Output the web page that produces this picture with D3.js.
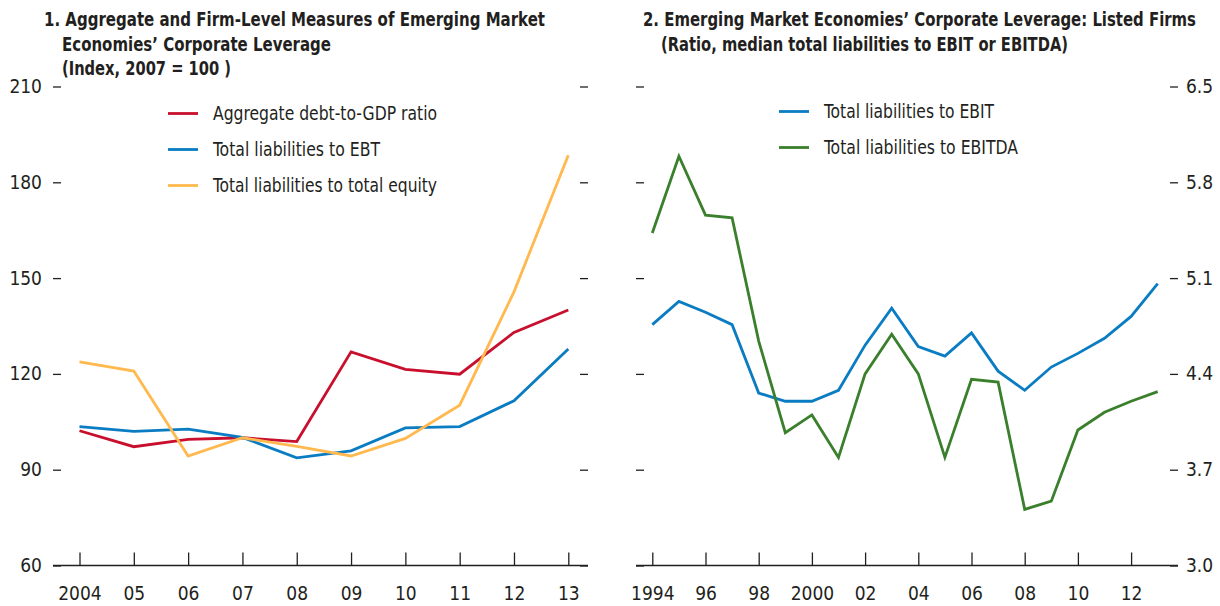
<!DOCTYPE html>
<html lang="en">
  <head>
    <meta charset="utf-8" />
    <title>EM corporate leverage</title>
    <script src="https://d3js.org/d3.v7.min.js"></script>
    <style>
      body { margin: 0; background: #fff; }
      svg text { font-family: "Liberation Sans Narrow", "Arial Narrow", "DejaVu Sans Condensed", sans-serif; fill: #231f20; }
      .title { font-weight: bold; font-size: 19px; }
      .tick text { font-size: 19px; }
      .legend text { font-size: 19px; }
      .tick line { stroke: #231f20; stroke-width: 1.3; }
    </style>
  </head>
  <body>
    <div id="container"></div>
    <script>
      // ---- panel 1 data (index, 2007 = 100)
      var years1 = [2004, 2005, 2006, 2007, 2008, 2009, 2010, 2011, 2012, 2013];
      var yearLabels1 = ["2004", "05", "06", "07", "08", "09", "10", "11", "12", "13"];
      var debtToGdp = [102.2, 97.2, 99.5, 100, 98.8, 126.9, 121.4, 119.9, 133, 140];
      var liabToEbt = [103.5, 102, 102.7, 100.1, 93.7, 95.9, 103.1, 103.5, 111.6, 127.8];
      var liabToEquity = [123.8, 120.9, 94.3, 100, 97.3, 94.3, 99.8, 110.2, 145.7, 188.5];
      var yTicks1 = [60, 90, 120, 150, 180, 210];

      // ---- panel 2 data (ratio)
      var years2 = [1994, 1995, 1996, 1997, 1998, 1999, 2000, 2001, 2002, 2003,
                    2004, 2005, 2006, 2007, 2008, 2009, 2010, 2011, 2012, 2013];
      var xTicks2 = [1994, 1996, 1998, 2000, 2002, 2004, 2006, 2008, 2010, 2012];
      var xTickLabels2 = ["1994", "96", "98", "2000", "02", "04", "06", "08", "10", "12"];
      var liabToEbit = [4.76, 4.93, 4.85, 4.76, 4.26, 4.20, 4.20, 4.28, 4.61, 4.88,
                        4.60, 4.53, 4.70, 4.42, 4.28, 4.45, 4.55, 4.66, 4.82, 5.06];
      var liabToEbitda = [5.43, 5.99, 5.56, 5.54, 4.64, 3.97, 4.10, 3.79, 4.40, 4.69,
                          4.40, 3.79, 4.36, 4.34, 3.41, 3.47, 3.99, 4.12, 4.20, 4.27];
      var yTicks2 = [3.0, 3.7, 4.4, 5.1, 5.8, 6.5];

      var red = "#c8102e", blue = "#0a7cc2", yellow = "#ffb94f", green = "#3a7f2b";

      var width = 1220, height = 606;
      var plotTop = 86.5, plotBottom = 565.5;

      var svg = d3.select("#container").append("svg")
        .attr("width", width)
        .attr("height", height);

      // titles (condensed font is not installed, so squeeze to the reference widths)
      function title(x, lines) {
        lines.forEach(function (l, i) {
          svg.append("text").attr("class", "title")
            .attr("x", x + (i ? 18 : 0)).attr("y", 26 + i * 24.5)
            .attr("textLength", l.w).attr("lengthAdjust", "spacingAndGlyphs")
            .text(l.text);
        });
      }
      title(44, [
        { text: "1. Aggregate and Firm-Level Measures of Emerging Market", w: 501 },
        { text: "Economies\u2019 Corporate Leverage", w: 269 },
        { text: "(Index, 2007 = 100 )", w: 169 }
      ]);
      title(643, [
        { text: "2. Emerging Market Economies\u2019 Corporate Leverage: Listed Firms", w: 553 },
        { text: "(Ratio, median total liabilities to EBIT or EBITDA)", w: 407 }
      ]);

      function drawPanel(p) {
        var x = d3.scaleLinear().domain(d3.extent(p.years)).range(p.xRange);
        var y = d3.scaleLinear().domain(d3.extent(p.yTicks)).range([plotBottom, plotTop]);

        // y ticks, both sides
        var left = d3.axisLeft(y).tickValues(p.yTicks).tickSize(8).tickPadding(p.labelLeft ? 11 : 0);
        if (!p.labelLeft) left.tickFormat("");
        svg.append("g").attr("transform", "translate(" + p.axisLeft + ",0)").call(left)
          .call(function (g) { g.select(".domain").remove(); });

        var right = d3.axisRight(y).tickValues(p.yTicks).tickSize(8).tickPadding(p.labelLeft ? 0 : 8);
        if (p.labelLeft) right.tickFormat(""); else right.tickFormat(d3.format(".1f"));
        svg.append("g").attr("transform", "translate(" + p.axisRight + ",0)").call(right)
          .call(function (g) { g.select(".domain").remove(); });

        // x axis with ticks pointing up
        var xa = d3.axisBottom(x).tickValues(p.xTicks).tickSizeInner(-13).tickSizeOuter(0).tickPadding(21)
          .tickFormat(function (d, i) { return p.xLabels[i]; });
        svg.append("g").attr("transform", "translate(0," + plotBottom + ")").call(xa)
          .call(function (g) { g.select(".domain").remove(); });
        svg.append("line")
          .attr("x1", p.axisLeft - 8).attr("x2", p.axisRight + 8)
          .attr("y1", y(p.yTicks[0])).attr("y2", y(p.yTicks[0]))
          .attr("stroke", "#231f20").attr("stroke-width", 1.5);

        var line = d3.line().x(function (d) { return x(d[0]); }).y(function (d) { return y(d[1]); });
        p.series.forEach(function (s) {
          svg.append("path")
            .datum(p.years.map(function (yr, i) { return [yr, s.values[i]]; }))
            .attr("fill", "none")
            .attr("stroke", s.color)
            .attr("stroke-width", 2.8)
            .attr("stroke-linejoin", "miter")
            .attr("d", line);
        });

        // legend
        var lg = svg.append("g").attr("class", "legend");
        p.series.forEach(function (s, i) {
          var ly = p.legendY + i * 36;
          lg.append("line").attr("x1", p.legendX).attr("x2", p.legendX + 30)
            .attr("y1", ly).attr("y2", ly).attr("stroke", s.color).attr("stroke-width", 2.8);
          lg.append("text").attr("x", p.legendX + 45).attr("y", ly).attr("dy", "0.35em")
            .attr("textLength", s.w).attr("lengthAdjust", "spacingAndGlyphs")
            .text(s.name);
        });
      }

      drawPanel({
        years: years1, xTicks: years1, xLabels: yearLabels1, xRange: [79.5, 568.3],
        yTicks: yTicks1, axisLeft: 61, axisRight: 580, labelLeft: true,
        legendX: 168, legendY: 113.5,
        series: [
          { name: "Aggregate debt-to-GDP ratio", values: debtToGdp, color: red, w: 224 },
          { name: "Total liabilities to EBT", values: liabToEbt, color: blue, w: 167 },
          { name: "Total liabilities to total equity", values: liabToEquity, color: yellow, w: 224 }
        ]
      });

      drawPanel({
        years: years2, xTicks: xTicks2, xLabels: xTickLabels2, xRange: [652.3, 1157.7],
        yTicks: yTicks2, axisLeft: 644, axisRight: 1170, labelLeft: false,
        legendX: 779, legendY: 111.5,
        series: [
          { name: "Total liabilities to EBIT", values: liabToEbit, color: blue, w: 170 },
          { name: "Total liabilities to EBITDA", values: liabToEbitda, color: green, w: 194 }
        ]
      });
    </script>
  </body>
</html>
